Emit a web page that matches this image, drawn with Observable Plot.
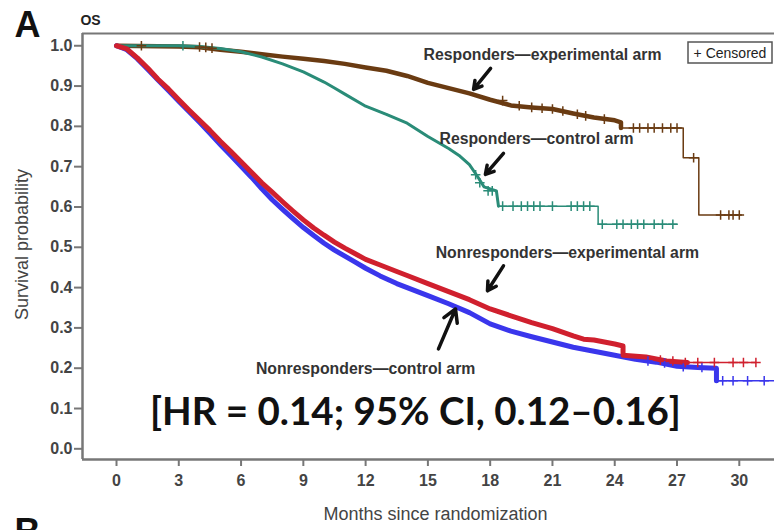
<!DOCTYPE html>
<html>
<head>
<meta charset="utf-8">
<script src="https://cdn.jsdelivr.net/npm/d3@7"></script>
<script src="https://cdn.jsdelivr.net/npm/@observablehq/plot@0.6"></script>
<style>
  html, body { margin: 0; padding: 0; background: white; }
  #chart { width: 774px; height: 530px; overflow: hidden; }
</style>
</head>
<body>
<div id="chart"></div>
<script>
// ---------- Data ----------
const xTicks = [0, 3, 6, 9, 12, 15, 18, 21, 24, 27, 30];
const yTicks = [0, 0.1, 0.2, 0.3, 0.4, 0.5, 0.6, 0.7, 0.8, 0.9, 1.0];

// Nonresponders — experimental arm (red)
const neMonths = [0,0.5,1,1.5,2,2.5,3,3.5,4,4.5,5,5.5,6,6.5,7,7.5,8,8.5,9,9.5,10,10.5,11,11.5,12,12.7,13.5,14,15,16,17,18,19,20,21,22,22.5,23,23.5,24,24.4,24.4,25.5,26.5,27.5,30.8];
const neSurv   = [1,0.992,0.97,0.945,0.917,0.893,0.866,0.84,0.815,0.79,0.763,0.738,0.712,0.686,0.66,0.637,0.613,0.59,0.568,0.548,0.53,0.513,0.498,0.484,0.47,0.456,0.44,0.43,0.41,0.39,0.37,0.347,0.33,0.313,0.298,0.28,0.272,0.27,0.265,0.26,0.255,0.232,0.228,0.218,0.214,0.214];

// Nonresponders — control arm (blue)
const ncMonths = [0,0.5,1,1.5,2,2.5,3,3.5,4,4.5,5,5.5,6,6.5,7,7.5,8,8.5,9,9.5,10,10.5,11,11.5,12,12.7,13.5,14,15,16,17,18,19,20,21,22,23,24,25,26,27,28,28.9,28.9,31.7];
const ncSurv   = [1,0.99,0.968,0.942,0.915,0.889,0.862,0.836,0.81,0.783,0.755,0.728,0.701,0.674,0.645,0.618,0.594,0.571,0.549,0.529,0.51,0.493,0.478,0.463,0.448,0.429,0.41,0.40,0.38,0.36,0.338,0.31,0.292,0.278,0.265,0.252,0.242,0.232,0.222,0.215,0.205,0.202,0.2,0.169,0.169];

// Responders — experimental arm (brown)
const reMonths = [0,3,4,5,6,7,8,9,10,11,12,13,14,15,16,17,18,19,20,21,22,23,24,24.3,24.3,27.3,27.3,28.05,28.05,30.1];
const reSurv   = [1,0.998,0.996,0.99,0.985,0.979,0.973,0.968,0.962,0.955,0.946,0.938,0.925,0.908,0.895,0.882,0.866,0.852,0.847,0.843,0.832,0.822,0.815,0.81,0.796,0.796,0.722,0.722,0.58,0.58];

// Responders — control arm (teal)
const rcMonths = [0,3,4,5,6,7,8,9,10,10.5,11,12,13,14,15,16,16.5,17,17.4,17.7,18.3,18.4,23.2,23.2,27.0];
const rcSurv   = [1,1,0.998,0.993,0.985,0.972,0.955,0.935,0.91,0.895,0.88,0.85,0.83,0.808,0.775,0.745,0.728,0.705,0.675,0.65,0.64,0.602,0.602,0.557,0.557];

// Censored marks: [month, survival]
const neCensored = [[26.2,0.22],[26.8,0.218],[27.4,0.214],[28.0,0.214],[28.8,0.214],[29.7,0.214],[30.2,0.214],[30.8,0.214]];
const ncCensored = [[25.6,0.218],[26.4,0.213],[27.3,0.204],[28.2,0.202],[29.2,0.169],[29.7,0.169],[30.4,0.169],[31.2,0.169]];
const reCensored = [[1.2,1],[4.0,0.997],[4.3,0.996],[4.6,0.994],[18.6,0.864],[19.4,0.851],[20.0,0.847],[20.5,0.845],[21.0,0.843],[21.5,0.838],[22.2,0.83],[22.6,0.826],[23.5,0.818],[24.9,0.796],[25.2,0.796],[25.6,0.796],[25.9,0.796],[26.3,0.796],[26.7,0.796],[27.0,0.796],[27.8,0.722],[29.1,0.58],[29.5,0.58],[29.7,0.58],[30.0,0.58]];
const rcCensored = [[3.2,1],[17.3,0.68],[17.5,0.66],[17.9,0.64],[18.1,0.64],[18.6,0.602],[19.1,0.602],[19.5,0.602],[19.8,0.602],[20.1,0.602],[20.4,0.602],[21.0,0.602],[21.9,0.602],[22.2,0.602],[22.5,0.602],[22.8,0.602],[23.4,0.557],[24.1,0.557],[24.4,0.557],[24.8,0.557],[25.1,0.557],[25.4,0.557],[25.9,0.557],[26.3,0.557],[26.8,0.557]];

// Annotations
const labelText  = ["Responders\u2014experimental arm", "Responders\u2014control arm", "Nonresponders\u2014experimental arm", "Nonresponders\u2014control arm"];
const labelMonth = [20.52, 20.23, 21.72, 12.0];
const labelSurv  = [0.978, 0.77, 0.486, 0.199];
const arrowFrom  = [[18.02,0.944],[18.64,0.733],[18.64,0.454],[15.51,0.248]];
const arrowTo    = [[17.2,0.892],[17.77,0.681],[17.87,0.392],[16.33,0.347]];
const hrText = "[HR = 0.14; 95% CI, 0.12\u20130.16]";

// ---------- Build tables ----------
const series = (months, surv) => months.map((m, i) => ({m, s: surv[i]}));
const NE = series(neMonths, neSurv), NC = series(ncMonths, ncSurv);
const RE = series(reMonths, reSurv), RC = series(rcMonths, rcSurv);
const cens = arr => arr.map(([m, s]) => ({m, s}));
const labels = labelText.map((t, i) => ({t, m: labelMonth[i], s: labelSurv[i]}));
const arrows = arrowFrom.map((f, i) => ({x1: f[0], y1: f[1], x2: arrowTo[i][0], y2: arrowTo[i][1]}));

const C = {ne: "#d0202e", nc: "#3a36ec", re: "#6a3b12", rc: "#2a8c78"};
const axisGray = "#777";
const textGray = "#444";

const thickLine = (data, color, w, cutoff) => [
  Plot.line(data, {x: "m", y: "s", stroke: color, strokeWidth: 1.5}),
  Plot.line(data.filter(d => d.m <= cutoff), {x: "m", y: "s", stroke: color, strokeWidth: w, strokeLinejoin: "round", strokeLinecap: "round"})
];
const censMarks = (data, color) => Plot.dot(data, {x: "m", y: "s", symbol: "plus", r: 3.2, stroke: color, strokeWidth: 1.5});

const plot = Plot.plot({
  width: 774,
  height: 530,
  marginLeft: 82,
  marginRight: 0,
  marginTop: 33,
  marginBottom: 71,
  style: {fontFamily: "'Liberation Sans', Arial, sans-serif", background: "white", overflow: "hidden"},
  x: {domain: [-1.638, 31.696]},
  y: {domain: [-0.0265, 1.0304]},
  marks: [
    Plot.ruleY([1.0304], {stroke: axisGray, strokeWidth: 2}),
    Plot.ruleY([-0.0265], {stroke: axisGray, strokeWidth: 2.5}),
    Plot.ruleX([-1.638], {stroke: axisGray, strokeWidth: 2.5}),
    Plot.axisX({ticks: xTicks, tickSize: 7, tickPadding: 8, fontSize: 16, fontWeight: "bold", stroke: axisGray, fill: textGray, strokeWidth: 2, label: null}),
    Plot.axisY({ticks: yTicks, tickFormat: d3.format(".1f"), tickSize: 8, tickPadding: 2, fontSize: 16, fontWeight: "bold", stroke: axisGray, fill: textGray, strokeWidth: 2, label: null}),
    Plot.text(["Survival probability"], {frameAnchor: "left", textAnchor: "middle", dx: -60, dy: -2, rotate: -90, fontSize: 18, fill: textGray}),
    Plot.text(["Months since randomization"], {frameAnchor: "bottom", textAnchor: "middle", dx: 7, dy: 60, fontSize: 18, fill: textGray}),
    Plot.text(["A"], {frameAnchor: "top-left", textAnchor: "middle", dx: -55, dy: -22, fontSize: 36, fontWeight: "bold", fill: "#111"}),
    Plot.text(["OS"], {frameAnchor: "top-left", textAnchor: "middle", dx: 8, dy: -18, fontSize: 14, fontWeight: "bold", fill: "#222"}),
    Plot.text(["B"], {frameAnchor: "bottom-left", textAnchor: "middle", dx: -55, dy: 84, fontSize: 36, fontWeight: "bold", fill: "#111"}),
    ...thickLine(RE, C.re, 4.5, 24.3),
    ...thickLine(RC, C.rc, 3, 18.4),
    ...thickLine(NC, C.nc, 5, 28.9),
    ...thickLine(NE, C.ne, 5, 27.5),
    censMarks(cens(reCensored), C.re),
    censMarks(cens(rcCensored), C.rc),
    censMarks(cens(ncCensored), C.nc),
    censMarks(cens(neCensored), C.ne),
    Plot.arrow(arrows, {x1: "x1", y1: "y1", x2: "x2", y2: "y2", stroke: "#111", strokeWidth: 3.5, headLength: 11}),
    Plot.text(labels, {x: "m", y: "s", text: "t", fontSize: 15.8, fontWeight: "bold", fill: "#333"}),
    Plot.text([hrText], {x: [14.4], y: [0.09], fontFamily: "Lato, 'Open Sans', sans-serif", fontSize: 38.5, fontWeight: "bold", fill: "#111"})
  ]
});

document.getElementById("chart").appendChild(plot);

// Legend box "+ Censored"
const svg = d3.select(plot);
const lg = svg.append("g");
lg.append("rect").attr("x", 688).attr("y", 42).attr("width", 84).attr("height", 21)
  .attr("fill", "white").attr("stroke", "#555").attr("stroke-width", 1.5);
lg.append("text").attr("x", 730).attr("y", 57.5).attr("text-anchor", "middle")
  .attr("font-size", 14).attr("fill", "#222").text("+ Censored");
</script>
</body>
</html>
